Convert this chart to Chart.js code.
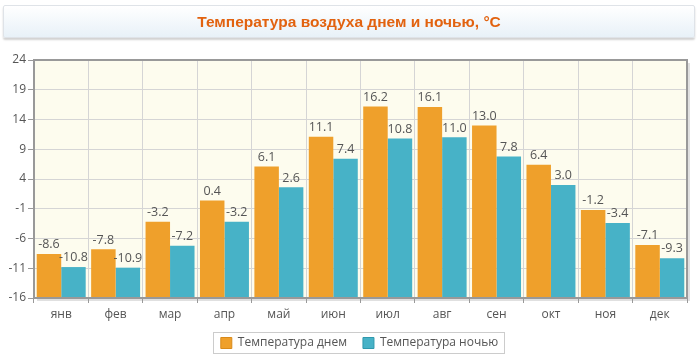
<!DOCTYPE html>
<html><head><meta charset="utf-8">
<script src="https://cdn.jsdelivr.net/npm/chart.js@4/dist/chart.umd.min.js"></script>
<style>
html,body{margin:0;padding:0;background:#fff;width:700px;height:357px;overflow:hidden}
#wrap{position:relative;width:700px;height:357px}
#title{position:absolute;left:3px;top:5px;width:690px;height:31px;border:1px solid #dfe3e8;border-radius:2px;
background:linear-gradient(#ffffff,#e8f1f8);box-shadow:0 2px 2px rgba(0,0,0,0.18);
font:bold 15.5px "Liberation Sans",Arial,sans-serif;color:#e2620f;text-align:center;line-height:31px}
canvas{position:absolute;left:0;top:0}
</style></head>
<body><div id="wrap"><canvas id="c" width="700" height="357"></canvas><div id="title">Температура воздуха днем и ночью, °С</div></div>
<script>
const months = ['янв','фев','мар','апр','май','июн','июл','авг','сен','окт','ноя','дек'];
const dayTemps = [-8.6,-7.8,-3.2,0.4,6.1,11.1,16.2,16.1,13.0,6.4,-1.2,-7.1];
const nightTemps = [-10.8,-10.9,-7.2,-3.2,2.6,7.4,10.8,11.0,7.8,3.0,-3.4,-9.3];
const yTicks = [-16,-11,-6,-1,4,9,14,19,24];
const seriesNames = ['Температура днем','Температура ночью'];

const FONT = '"Open Sans", sans-serif';
const TXT = '#555';
const LEG_DX = 16, LEG_DY = 4, LEG_PAD = 16;

const framePlugin = {
  id:'frame',
  afterLayout(chart){
    const lg = chart.legend;
    if (lg){
      lg.left += LEG_DX; lg.right += LEG_DX; lg.top += LEG_DY; lg.bottom += LEG_DY;
      (lg.legendHitBoxes||[]).forEach(h=>{h.left+=LEG_DX; h.top+=LEG_DY;});
    }
    const xs = chart.scales.x;
    xs.bottom += 12; xs.height += 12;
  },
  beforeDraw(chart){
    const {ctx, chartArea:a} = chart;
    ctx.save();
    ctx.fillStyle='rgba(0,0,0,0.12)';
    ctx.fillRect(a.left+3,a.top+3,a.right-a.left,a.bottom-a.top);
    ctx.fillStyle='#fdfcee';
    ctx.fillRect(a.left,a.top,a.right-a.left,a.bottom-a.top);
    ctx.restore();
  },
  afterDraw(chart){
    const {ctx, chartArea:a} = chart;
    ctx.save();
    ctx.strokeStyle='#999';
    ctx.lineWidth=2;
    ctx.strokeRect(a.left,a.top,a.right-a.left,a.bottom-a.top);
    ctx.font='12.5px '+FONT;
    ctx.fillStyle=TXT;
    ctx.textAlign='center';
    ctx.textBaseline='bottom';
    chart.data.datasets.forEach((ds,i)=>{
      chart.getDatasetMeta(i).data.forEach((bar,j)=>{
        ctx.fillText(ds.data[j].toFixed(1), bar.x, bar.y-3);
      });
    });
    const lg = chart.legend;
    if (lg && lg.legendHitBoxes && lg.legendHitBoxes.length){
      const hb = lg.legendHitBoxes;
      let x0=Infinity,x1=-Infinity;
      hb.forEach(h=>{x0=Math.min(x0,h.left);x1=Math.max(x1,h.left+h.width);});
      const itemTop = lg.top + LEG_PAD;
      ctx.strokeStyle='#ccc';ctx.lineWidth=1;
      const L=Math.round(x0-8), T=Math.round(itemTop-5), R=Math.round(x1+6), B=Math.round(itemTop+16);
      ctx.strokeRect(L+0.5,T+0.5,R-L,B-T);
    }
    ctx.restore();
  }
};

new Chart(document.getElementById('c'),{
  type:'bar',
  data:{labels:months,datasets:[
    {label:seriesNames[0],data:dayTemps,base:-16,backgroundColor:'#efa02b',borderColor:'#d98a1a',borderWidth:0,categoryPercentage:0.9,barPercentage:1.0},
    {label:seriesNames[1],data:nightTemps,base:-16,backgroundColor:'#47b2c7',borderColor:'#2f98ad',borderWidth:0,categoryPercentage:0.9,barPercentage:1.0}
  ]},
  options:{
    responsive:false,animation:false,
    layout:{padding:{left:0,top:60,right:13,bottom:2}},
    plugins:{
      title:{display:false},tooltip:{enabled:false},
      legend:{position:'bottom',labels:{boxWidth:11,boxHeight:11,padding:LEG_PAD,color:TXT,font:{family:FONT,size:12},
        generateLabels(chart){return chart.data.datasets.map((d,i)=>({text:d.label,fillStyle:d.backgroundColor,strokeStyle:d.borderColor,lineWidth:1,datasetIndex:i,fontColor:TXT}));}}}
    },
    scales:{
      x:{
        grid:{offset:true,color:'#d5d5d5',drawTicks:true,tickLength:5,tickColor:'#999'},
        border:{color:'#999',width:2},
        ticks:{color:TXT,font:{family:FONT,size:12},padding:4},
        afterFit(s){s.height=19;}
      },
      y:{
        min:-16,max:24,
        grid:{color:'#d5d5d5',tickLength:6,tickColor:'#999'},
        border:{color:'#999',width:2},
        ticks:{color:TXT,font:{family:FONT,size:12},padding:2},
        afterBuildTicks(s){s.ticks=yTicks.map(v=>({value:v}));},
        afterFit(s){s.width=34;}
      }
    }
  },
  plugins:[framePlugin]
});
</script></body></html>
